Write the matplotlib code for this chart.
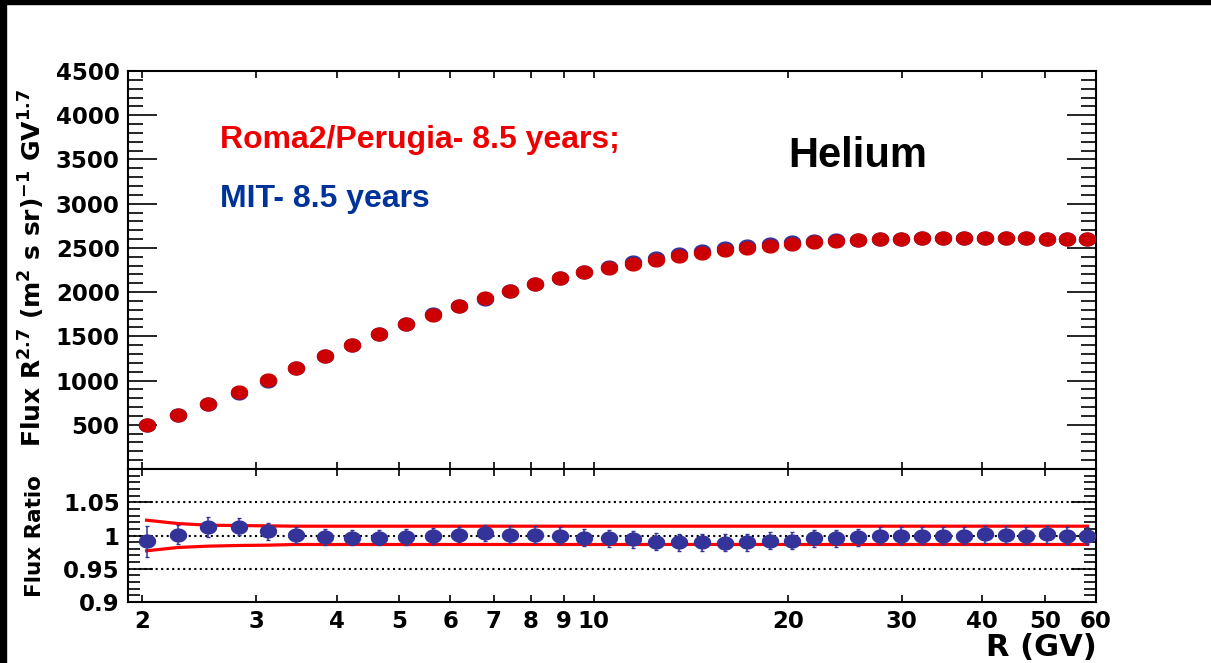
"""Helium flux R^2.7 comparison: Roma2/Perugia vs MIT, with flux ratio panel."""

import numpy as np
import matplotlib
matplotlib.use("Agg")
import matplotlib.pyplot as plt
from matplotlib.patches import Rectangle
from matplotlib.ticker import FixedLocator, FixedFormatter, MultipleLocator, NullLocator

plt.rcParams["mathtext.fontset"] = "custom"
plt.rcParams["mathtext.rm"] = "DejaVu Sans:bold"
plt.rcParams["mathtext.default"] = "rm"

# rigidity bin centres (GV)
rigidity = [2.03, 2.27, 2.53, 2.82, 3.13, 3.46, 3.83, 4.22, 4.65, 5.12,
            5.63, 6.18, 6.78, 7.42, 8.12, 8.87, 9.68, 10.55, 11.5, 12.5,
            13.55, 14.7, 15.95, 17.3, 18.75, 20.3, 21.95, 23.75, 25.7, 27.75,
            29.95, 32.3, 34.8, 37.5, 40.4, 43.5, 46.8, 50.35, 54.15, 58.2]

# flux * R^2.7
roma_flux = [496, 616, 740, 871, 1006, 1141, 1273, 1401, 1523, 1639,
             1746, 1848, 1934, 2017, 2092, 2160, 2223, 2272, 2321, 2366,
             2408, 2441, 2471, 2498, 2524, 2546, 2565, 2580, 2588, 2599,
             2603, 2610, 2614, 2617, 2614, 2614, 2610, 2606, 2603, 2603]
mit_flux = [500, 615, 730, 859, 1000, 1140, 1276, 1405, 1528, 1642,
            1747, 1845, 1926, 2014, 2089, 2160, 2231, 2282, 2335, 2389,
            2432, 2466, 2498, 2523, 2544, 2567, 2575, 2590, 2594, 2600,
            2603, 2611, 2615, 2617, 2609, 2610, 2610, 2601, 2603, 2603]

# ratio Roma2/Perugia over MIT
flux_ratio = [0.991, 1.0015, 1.013, 1.0135, 1.0065, 1.001, 0.998, 0.997, 0.997, 0.998,
              0.9995, 1.0015, 1.004, 1.0015, 1.0015, 1.0, 0.9965, 0.9955, 0.994, 0.9905,
              0.990, 0.990, 0.989, 0.990, 0.992, 0.992, 0.996, 0.996, 0.9975, 0.9995,
              1.0, 0.9995, 0.9995, 1.0, 1.002, 1.0015, 1.0, 1.002, 1.0, 1.0]
ratio_err = [0.023, 0.014, 0.015, 0.013, 0.013, 0.012, 0.012, 0.012, 0.012, 0.012,
             0.012, 0.012, 0.012, 0.013, 0.013, 0.013, 0.013, 0.013, 0.013, 0.013,
             0.013, 0.013, 0.013, 0.013, 0.013, 0.013, 0.013, 0.013, 0.013, 0.013,
             0.013, 0.013, 0.013, 0.013, 0.013, 0.013, 0.013, 0.013, 0.013, 0.013]

# systematic band
band_upper = [1.023, 1.018, 1.0155, 1.015, 1.0145] + [1.014] * 35
band_lower = [0.977, 0.982, 0.984, 0.985, 0.9855] + [0.9865] * 35

x_ticks = [2, 3, 4, 5, 6, 7, 8, 9, 10, 20, 30, 40, 50, 60]
x_tick_labels = ["2", "3", "4", "5", "6", "7", "8", "9", "10", "20", "30", "40", "50", "60"]

RED = "#cc0000"
BLUE = "#333399"
TICK_FONT = {"family": "DejaVu Sans", "weight": "bold", "size": 16.5}

# slightly wide ellipse marker, like the ROOT canvas
t = np.linspace(0, 2 * np.pi, 60)
ellipse = np.column_stack([np.cos(t), 0.8 * np.sin(t)])

fig = plt.figure(figsize=(12.11, 6.63), dpi=100)
ax1 = fig.add_axes([0.1057, 0.2926, 0.7993, 0.6003])
ax2 = fig.add_axes([0.1057, 0.0920, 0.7993, 0.2006])

# top panel
ax1.plot(rigidity, mit_flux, ls="none", marker=ellipse, ms=11.5, color=BLUE, zorder=3)
ax1.plot(rigidity, roma_flux, ls="none", marker=ellipse, ms=11.5, color=RED, zorder=4)
ax1.set_xscale("log")
ax1.set_xlim(1.9, 60)
ax1.set_ylim(0, 4500)
ax1.yaxis.set_major_locator(FixedLocator([500, 1000, 1500, 2000, 2500, 3000, 3500, 4000, 4500]))
ax1.yaxis.set_minor_locator(MultipleLocator(100))
ax1.xaxis.set_major_locator(FixedLocator(x_ticks))
ax1.xaxis.set_minor_locator(NullLocator())
ax1.set_xticklabels([])

# bottom panel
for yv in [0.95, 1.0, 1.05]:
    ax2.axhline(yv, color="black", ls=":", lw=1.5, zorder=1)
ax2.plot(rigidity, band_upper, color="red", lw=2.3, zorder=2)
ax2.plot(rigidity, band_lower, color="red", lw=2.3, zorder=2)
ax2.errorbar(rigidity, flux_ratio, yerr=ratio_err, ls="none", marker=ellipse, ms=11.5,
             color=BLUE, ecolor=BLUE, elinewidth=1.1, capsize=1.5, zorder=3)
ax2.set_xscale("log")
ax2.set_xlim(1.9, 60)
ax2.set_ylim(0.9, 1.1)
ax2.yaxis.set_major_locator(FixedLocator([0.9, 0.95, 1.0, 1.05, 1.1]))
ax2.yaxis.set_major_formatter(FixedFormatter(["0.9", "0.95", "1", "1.05", ""]))
ax2.yaxis.set_minor_locator(MultipleLocator(0.01))
ax2.xaxis.set_major_locator(FixedLocator(x_ticks))
ax2.xaxis.set_major_formatter(FixedFormatter(x_tick_labels))
ax2.xaxis.set_minor_locator(NullLocator())

for ax, ymaj, ymin in [(ax1, 21, 10.5), (ax2, 18, 8.5)]:
    ax.tick_params(which="both", direction="in", top=True, right=True, width=1.2)
    ax.tick_params(axis="x", which="major", length=5, pad=6)
    ax.tick_params(axis="y", which="major", length=ymaj, pad=6)
    ax.tick_params(axis="y", which="minor", length=ymin)
    for lab in ax.get_xticklabels() + ax.get_yticklabels():
        lab.set_fontproperties(TICK_FONT)
    for sp in ax.spines.values():
        sp.set_linewidth(1.5)

# axis titles
fig.text(0.026, 0.595, r"Flux R$^{2.7}$ (m$^{2}$ s sr)$^{-1}$ GV$^{1.7}$", rotation=90,
         ha="center", va="center", family="DejaVu Sans", weight="bold", size=18)
fig.text(0.029, 0.1916, "Flux Ratio", rotation=90, ha="center", va="center",
         family="DejaVu Sans", weight="bold", size=15.5)
fig.text(0.9058, 0.011, "R (GV)", ha="right", va="baseline",
         family="DejaVu Sans", weight="bold", size=22)

# legend-like texts
fig.text(0.1817, 0.7768, "Roma2/Perugia- 8.5 years;", color="#ee0000", va="baseline",
         family="Liberation Sans", weight="bold", size=23)
fig.text(0.1817, 0.6882, "MIT- 8.5 years", color="#003399", va="baseline",
         family="Liberation Sans", weight="bold", size=23)
fig.text(0.6507, 0.7486, "Helium", color="black", va="baseline",
         family="Liberation Sans", weight="bold", size=30)

# black frame strips on top and left edge
fig.add_artist(Rectangle((0, 1 - 4 / 663), 1, 4 / 663, transform=fig.transFigure,
                         color="black", zorder=10))
fig.add_artist(Rectangle((0, 0), 6 / 1211, 1, transform=fig.transFigure,
                         color="black", zorder=10))

fig.savefig("out.png", dpi=100)
